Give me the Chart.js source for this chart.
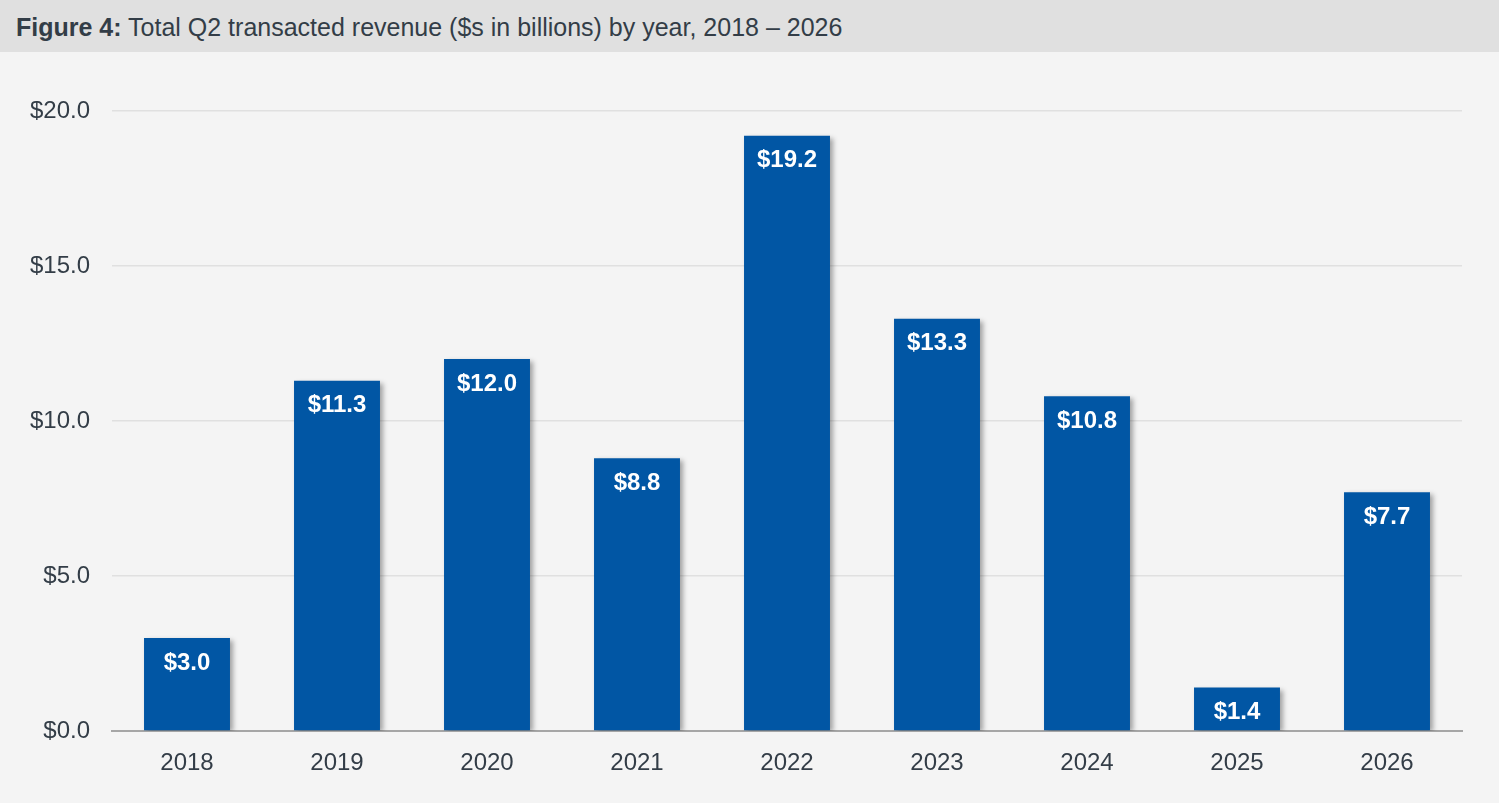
<!DOCTYPE html>
<html>
<head>
<meta charset="utf-8">
<script src="https://cdn.jsdelivr.net/npm/chart.js@4"></script>
<style>
  html, body { margin: 0; padding: 0; background: #f4f4f4; }
  body { width: 1499px; height: 803px; overflow: hidden; font-family: "Liberation Sans", Arial, sans-serif; }
  #title {
    height: 52px; line-height: 54px; background: #e0e0e0; color: #333d47;
    font-size: 25px; padding-left: 16px; box-sizing: border-box;
  }
  #wrap { width: 1499px; height: 751px; }
</style>
</head>
<body>
<div id="title"><b>Figure 4:</b> Total Q2 transacted revenue ($s in billions) by year, 2018 – 2026</div>
<div id="wrap"><canvas id="chart" width="1499" height="751"></canvas></div>
<script>
// Годы и выручка (млрд $)
const years = ["2018", "2019", "2020", "2021", "2022", "2023", "2024", "2025", "2026"];
const revenue = [3.0, 11.3, 12.0, 8.8, 19.2, 13.3, 10.8, 1.4, 7.7];
const yTicks = [0, 5, 10, 15, 20];

const barColor = '#0156a4';
const textColor = '#333d47';
const fontFamily = '"Liberation Sans", Arial, sans-serif';

// Тень под столбцами
const shadowPlugin = {
    id: 'barShadow',
    beforeDatasetsDraw(chart) {
        const ctx = chart.ctx;
        ctx.save();
        ctx.shadowColor = 'rgba(0,0,0,0.35)';
        ctx.shadowOffsetX = 3;
        ctx.shadowOffsetY = 2;
        ctx.shadowBlur = 5;
    },
    afterDatasetsDraw(chart) {
        chart.ctx.restore();
    }
};

// Подписи значений внутри столбцов
const labelPlugin = {
    id: 'valueLabels',
    afterDatasetsDraw(chart) {
        const ctx = chart.ctx;
        const meta = chart.getDatasetMeta(0);
        ctx.save();
        ctx.fillStyle = '#ffffff';
        ctx.font = 'bold 24px ' + fontFamily;
        ctx.textAlign = 'center';
        ctx.textBaseline = 'middle';
        meta.data.forEach((bar, i) => {
            ctx.fillText('$' + revenue[i].toFixed(1), bar.x, bar.y + 25);
        });
        ctx.restore();
    }
};

const chart = new Chart(document.getElementById('chart'), {
    type: 'bar',
    data: {
        labels: years,
        datasets: [{
            data: revenue,
            backgroundColor: barColor,
            borderWidth: 0,
            categoryPercentage: 1,
            barPercentage: 0.573
        }]
    },
    options: {
        responsive: false,
        animation: false,
        layout: { padding: { top: 59, right: 37, bottom: 0, left: 0 } },
        plugins: { legend: { display: false }, tooltip: { enabled: false } },
        scales: {
            x: {
                grid: { display: false, drawTicks: false },
                border: { display: true, color: '#a6a6a6', width: 2 },
                ticks: {
                    color: textColor,
                    font: { family: fontFamily, size: 24 },
                    padding: 18
                },
                afterFit(scale) { scale.height = 72; }
            },
            y: {
                min: 0,
                max: 20,
                afterBuildTicks(scale) { scale.ticks = yTicks.map(v => ({ value: v })); },
                grid: { color: '#e0e0e0', lineWidth: 1.5, drawTicks: false },
                border: { display: false },
                ticks: {
                    color: textColor,
                    font: { family: fontFamily, size: 24 },
                    padding: 22,
                    callback: v => '$' + Number(v).toFixed(1)
                },
                afterFit(scale) { scale.width = 112; }
            }
        }
    },
    plugins: [shadowPlugin, labelPlugin]
});
</script>
</body>
</html>
